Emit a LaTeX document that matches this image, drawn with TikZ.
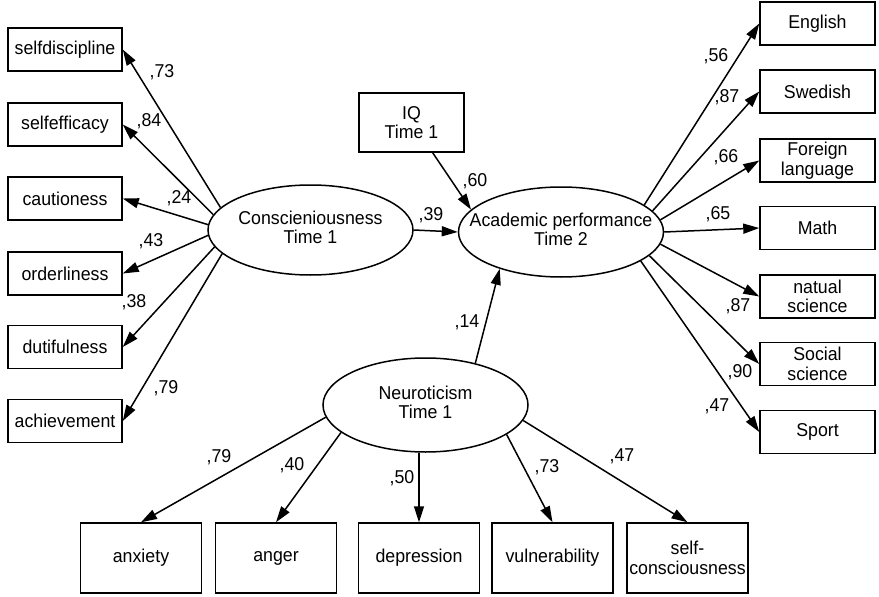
\documentclass[tikz,border=0pt]{standalone}
\usepackage{fontspec}
\setmainfont{Liberation Sans}[FakeStretch=0.955]
\usetikzlibrary{arrows.meta, shapes.geometric}
\def\lw{1.5pt}
\newcommand\twoline[1]{\makebox[0pt]{\begin{tabular}{@{}c@{}}#1\end{tabular}}}

\begin{document}
\begin{tikzpicture}[x=1pt, y=-1pt, font=\fontsize{18.6}{19.5}\selectfont,
  obs/.style={draw, line width=\lw, minimum width=114pt, minimum height=43pt, inner sep=0pt, align=center},
  lat/.style={draw, ellipse, line width=\lw, minimum width=205pt, minimum height=90pt, inner sep=0pt},
  load/.style={line width=\lw, -{Triangle[length=16pt, width=10pt]}},
  coef/.style={inner sep=0pt}]
  \useasboundingbox (0,0) rectangle (879,597);

  % latent variables
  \node[lat] (cons) at (310.5,230) {\twoline{Conscieniousness\\Time 1}};
  \node[lat] (acad) at (561,232) {\twoline{Academic performance\\Time 2}};
  \node[lat, minimum height=94pt] (neuro) at (425.5,405) {\twoline{Neuroticism\\Time 1}};
  \node[obs, minimum width=105pt, minimum height=59pt] (iq) at (411.5,122.5) {IQ\\Time 1};

  % conscientiousness
  \node[obs] (sd)  at (65,49.5)  {selfdiscipline};
  \node[obs] (se)  at (65,124.5) {selfefficacy};
  \node[obs] (cau) at (65,198.5) {cautioness};
  \node[obs] (ord) at (65,273.5) {orderliness};
  \node[obs] (dut) at (65,347)   {dutifulness};
  \node[obs] (ach) at (65,421)   {achievement};

  \draw[load] (cons.166) -- (sd.east);
  \draw[load] (cons.171) -- (se.east);
  \draw[load] (cons.177) -- (cau.east);
  \draw[load] (cons.183) -- (ord.east);
  \draw[load] (cons.190) -- (dut.east);
  \draw[load] (cons.195) -- (ach.east);

  \node[coef] (lsd)  at (162,72)  {,73};
  \node[coef] (lse)  at (149,121) {,84};
  \node[coef] (lcau) at (179,198) {,24};
  \node[coef] (lord) at (151,241) {,43};
  \node[coef] (ldut) at (134,302.5) {,38};
  \node[coef] (lach) at (166,388) {,79};

  % school subjects
  \node[obs, minimum width=115pt] (eng) at (817.5,23.5)  {English};
  \node[obs, minimum width=115pt] (swe) at (817.5,91.5)  {Swedish};
  \node[obs, minimum width=115pt] (for) at (817.5,160.5) {Foreign\\language};
  \node[obs, minimum width=115pt] (mat) at (817.5,228)   {Math};
  \node[obs, minimum width=115pt] (nat) at (817.5,296.5) {natual\\science};
  \node[obs, minimum width=115pt] (soc) at (817.5,364)   {Social\\science};
  \node[obs, minimum width=115pt] (spo) at (817.5,432)   {Sport};

  \draw[load] (acad.18)  -- (eng.west);
  \draw[load] (acad.13)  -- (swe.west);
  \draw[load] (acad.7)   -- (for.west);
  \draw[load] (acad.east) -- (mat.west);
  \draw[load] (acad.-7)  -- (nat.west);
  \draw[load] (acad.-15) -- (soc.west);
  \draw[load] (acad.-20) -- (spo.west);

  \node[coef] (leng) at (716,56)    {,56};
  \node[coef] (lswe) at (727,97.5)  {,87};
  \node[coef] (lfor) at (726,157.5) {,66};
  \node[coef] (lmat) at (718,214)   {,65};
  \node[coef] (lnat) at (738,306)   {,87};
  \node[coef] (lsoc) at (740,372.5) {,90};
  \node[coef] (lspo) at (717,406)   {,47};

  % structural paths
  \draw[load] (cons.east) -- (acad.west);
  \draw[load] (iq.-55) -- (acad.166);
  \draw[load] (neuro.40) -- (acad.211);

  \node[coef] (lcons) at (431,215) {,39};
  \node[coef] (liq)   at (475,181) {,60};
  \node[coef] (lneu)  at (467,322) {,14};

  % neuroticism
  \node[obs, minimum width=121pt, minimum height=70pt] (anx) at (141,558)   {anxiety};
  \node[obs, minimum width=121pt, minimum height=70pt] (ang) at (276,558)   {anger};
  \node[obs, minimum width=121pt, minimum height=70pt] (dep) at (419,558)   {depression};
  \node[obs, minimum width=121pt, minimum height=70pt] (vul) at (552.5,558) {vulnerability};
  \node[obs, minimum width=121pt, minimum height=70pt] (sc)  at (687.5,558) {self-\\consciousness};

  \draw[load] (neuro.187) -- (anx.north);
  \draw[load] (neuro.198) -- (ang.north);
  \draw[load] (neuro.south -| dep.north) -- (dep.north);
  \draw[load] (neuro.340) -- (vul.north);
  \draw[load] (neuro.351) -- (sc.north);

  \node[coef] (lanx) at (219,457) {,79};
  \node[coef] (lang) at (292,465) {,40};
  \node[coef] (ldep) at (402,478) {,50};
  \node[coef] (lvul) at (547,467) {,73};
  \node[coef] (lsc)  at (622,456) {,47};
\end{tikzpicture}
\end{document}
